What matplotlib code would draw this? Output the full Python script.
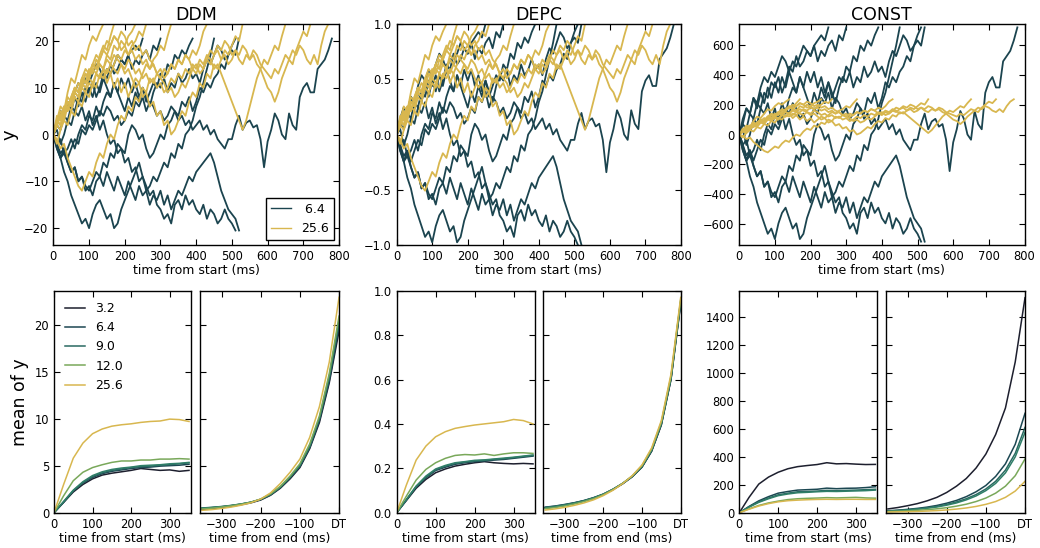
import numpy as np
import matplotlib
matplotlib.use("Agg")
import matplotlib.pyplot as plt

# ---------------- data: single-trial trajectories (DDM units), sampled every STEP_MS ----------------
STEP_MS = 10
DARK_BOUND = 20.5     # 6.4 bound in DDM units
GOLD_BOUND = 23.6     # 25.6 bound in DDM units
CONST_DARK_SCALE = 35.0
CONST_GOLD_SCALE = 10.0

dark_1 = [0, 2, 1, 4, 3, 6, 5, 8, 7, 10, 9, 11, 8, 10, 13, 12, 15, 13, 14, 16, 15, 17, 14, 16, 15, 17, 18, 16, 19, 18, 20.5]
dark_2 = [0, -2, -1, -4, -3, -1, -3, 0, 2, 1, 4, 3, 6, 4, 7, 9, 8, 11, 9, 12, 10, 12, 9, 11, 8, 10, 7, 9, 11, 10,
          13, 12, 15, 14, 17, 16, 18, 17, 19, 20.5]
dark_3 = [0, 3, 5, 4, 7, 5, 8, 6, 9, 7, 10, 8, 11, 9, 12, 10, 8, 11, 9, 7, 5, 8, 6, 9, 7, 10, 8, 6, 9, 11,
          10, 12, 9, 11, 10, 13, 11, 12, 14, 12, 13, 11, 14, 16, 15, 17, 19, 18, 16, 17, 18, 17, 20.5]
dark_4 = [0, -2, -4, -3, -5, -3, -1, -2, 1, 0, 2, 1, 3, 5, 4, 6, 5, 3, 4, 2, 3, 5, 4, 7, 6, 8, 5, 7, 6, 4,
          5, 3, 4, 6, 5, 3, 4, 2, 3, 1, 2, 3, 1, 2, 0, 1, -1, -2, -3, -1, -1, 2, 4, 1, 2.5, 3, 1.5, 2, -1, -7,
          -1.5, 1, 4.5, 3, 0, -1, 4.5, 2, 1, 8, 10, 11, 9, 9, 14, 15, 16, 18, 20.5]
dark_5 = [0, -3, -5, -4, -6, -8, -7, -10, -9, -12, -11, -13, -10, -9, -11, -8, -10, -12, -9, -11,
          -13, -10, -12, -14, -11, -13, -12, -15, -13, -14, -12, -15, -13, -16, -14, -12, -13, -11, -9, -10,
          -8, -7, -6, -5, -4, -6, -9, -12, -14, -16, -17, -18, -20.5]
dark_6 = [0, -3, -5, -8, -10, -13, -15, -17, -19, -18, -20, -17, -15, -14, -16, -18, -17, -20, -19, -16,
          -14, -12, -10, -8, -6, -9, -11, -13, -12, -15, -16, -18, -17, -19, -15, -14, -16, -13, -15, -14,
          -16, -17, -15, -18, -16, -17, -19, -18, -16, -18, -19, -20.5]
dark_7 = [0, 2, 5, 4, 7, 6, 9, 11, 10, 12, 11, 13, 15, 14, 12, 14, 13, 15, 17, 16, 15, 17, 18, 19, 18, 20.5]
dark_8 = [0, -2, -5, -3, -6, -8, -7, -10, -9, -11, -12, -10, -8, -9, -6, -7, -4, -5, -2, -3,
          -4, 0, 2, 1, -1, 0, -3, -5, -4, -2, 0, -1, 2, 3, 5, 4, 7, 6, 8, 5,
          7, 10, 9, 11, 10, 12, 13, 15, 14, 17, 19, 20.5]
dark_9 = [0, 1, -2, 0, 3, 2, 5, 4, 6, 3, 5, 2, 4, 1, 3, 0, -2, -1, -4, -3,
          -6, -5, -8, -7, -10, -9, -12, -11, -9, -10, -8, -6, -7, -4, -5, -2, -3, 0, 1, 3,
          6, 8, 11, 14, 17, 20.5]

gold_1 = [0, 3, 6, 5, 9, 12, 11, 14, 17, 16, 19, 21, 20, 22, 23.6]
gold_2 = [0, 2, 1, 4, 7, 6, 9, 8, 11, 13, 12, 15, 14, 17, 19, 18, 21, 23.6]
gold_3 = [0, 4, 3, 6, 5, 8, 10, 9, 12, 11, 14, 13, 16, 15, 14, 17, 16, 19, 18, 20, 19, 21, 22, 23.6]
gold_4 = [0, -2, 1, 3, 2, 5, 4, 7, 6, 9, 8, 11, 10, 13, 12, 14, 13, 15, 17, 16, 18, 17, 19, 20, 22, 21, 23.6]
gold_5 = [0, -1, -3, -2, -5, -7, -9, -11, -12, -10, -8, -9, -6, -4, -5, -2, 0, -1, 2, 4,
          3, 6, 5, 8, 7, 10, 9, 12, 11, 13, 12, 14, 13, 15, 14, 16, 15, 17, 16, 18, 17, 19, 22, 23.6]
gold_6 = [0, 2, 4, 3, 6, 5, 8, 7, 10, 9, 11, 10, 13, 12, 14, 11, 13, 10, 12, 9,
          11, 8, 10, 12, 11, 13, 15, 14, 16, 17, 19, 18, 21, 23.6]
gold_7 = [0, 3, 2, 5, 7, 6, 9, 11, 10, 13, 12, 14, 13, 15, 14, 16, 15, 17, 16, 15,
          13, 14, 12, 10, 11, 8, 9, 6, 7, 4, 5, 2, 3, 0, 1, 3, 5, 4, 7, 9,
          8, 11, 10, 13, 12, 15, 14, 16, 18, 17, 19, 21, 20, 23.6]
gold_8 = [0, 2, 5, 4, 7, 6, 9, 8, 11, 10, 12, 11, 13, 12, 14, 13, 15, 14, 13, 15,
          14, 16, 15, 13, 14, 12, 13, 11, 12, 10, 11, 9, 10, 12, 11, 13, 12, 14, 13, 15,
          14, 16, 15, 17, 16, 14, 15, 13, 11, 9, 7, 5, 3, 1, 3, 6, 9, 12, 14, 16,
          15, 17, 19, 18, 21, 23.6]
gold_9 = [0, 3, 2, 5, 8, 7, 10, 9, 12, 14, 13, 15, 17, 16, 18, 20, 19, 21, 20, 18,
          19, 17, 18, 16, 17, 15, 16, 14, 15, 13, 14, 12, 13, 15, 14, 16, 15, 17, 16, 14,
          15, 13, 14, 16, 15, 17, 18, 16, 17, 15, 16, 18, 17, 19, 18, 16, 17, 15, 14, 12,
          10, 9, 7, 9, 12, 14, 16, 15, 18, 20, 22, 21, 23.6]
gold_10 = [0, 2, 4, 6, 5, 8, 10, 9, 12, 11, 13, 15, 14, 16, 18, 17, 19, 21, 20, 22,
           21, 19, 20, 18, 19, 17, 18, 16, 15, 13, 12, 11, 9, 10, 8, 9, 11, 10, 12, 14,
           13, 15, 14, 16, 18, 17, 19, 18, 20, 19, 17, 18, 16, 15, 17, 16, 18, 17, 15, 14,
           13, 12, 14, 13, 15, 17, 16, 18, 17, 19, 18, 16, 15, 17, 15, 19, 22, 23.6]

dark_traces = [dark_1, dark_2, dark_3, dark_4, dark_5, dark_6, dark_7, dark_8, dark_9]
gold_traces = [gold_1, gold_2, gold_3, gold_4, gold_5, gold_6, gold_7, gold_8, gold_9, gold_10]

# ---------------- data: mean curves ----------------
coh_labels = ["3.2", "6.4", "9.0", "_extra", "12.0", "25.6"]
coh_colors = ["#1d1f2e", "#1c4752", "#2a6a62", "#2f7e68", "#79a85a", "#d8b74f"]

t_start = [0, 25, 50, 75, 100, 125, 150, 175, 200, 225, 250, 275, 300, 325, 350]
t_end = [-350, -325, -300, -275, -250, -225, -200, -175, -150, -125, -100, -75, -50, -25, 0]

ddm_start = [
    [0, 1.1, 2.2, 3.0, 3.6, 4.0, 4.2, 4.35, 4.5, 4.7, 4.6, 4.5, 4.55, 4.4, 4.5],
    [0, 1.1, 2.3, 3.15, 3.75, 4.15, 4.4, 4.55, 4.7, 4.8, 4.85, 4.95, 5.0, 5.05, 5.15],
    [0, 1.15, 2.35, 3.2, 3.85, 4.25, 4.5, 4.65, 4.8, 4.9, 4.95, 5.05, 5.1, 5.2, 5.3],
    [0, 1.2, 2.4, 3.3, 3.95, 4.35, 4.6, 4.75, 4.85, 5.0, 5.05, 5.1, 5.2, 5.25, 5.35],
    [0, 1.8, 3.4, 4.3, 4.8, 5.1, 5.35, 5.5, 5.5, 5.6, 5.6, 5.7, 5.7, 5.75, 5.7],
    [0, 3.0, 5.8, 7.4, 8.4, 8.9, 9.2, 9.35, 9.45, 9.6, 9.7, 9.75, 9.95, 9.9, 9.7],
]
ddm_end = [
    [0.35, 0.45, 0.55, 0.68, 0.85, 1.05, 1.35, 1.85, 2.6, 3.6, 4.8, 6.8, 9.6, 13.8, 19.3],
    [0.45, 0.53, 0.62, 0.75, 0.9, 1.1, 1.4, 1.9, 2.65, 3.7, 4.9, 6.9, 9.8, 14.0, 19.8],
    [0.5, 0.57, 0.66, 0.78, 0.93, 1.12, 1.42, 1.92, 2.7, 3.75, 5.0, 7.0, 10.0, 14.3, 20.2],
    [0.48, 0.55, 0.64, 0.76, 0.92, 1.12, 1.43, 1.95, 2.75, 3.8, 5.05, 7.1, 10.1, 14.5, 20.5],
    [0.4, 0.48, 0.6, 0.73, 0.9, 1.12, 1.45, 2.0, 2.8, 3.9, 5.2, 7.3, 10.3, 14.8, 20.9],
    [0.25, 0.33, 0.45, 0.6, 0.8, 1.05, 1.45, 2.1, 3.1, 4.3, 5.7, 8.0, 11.3, 16.0, 22.9],
]
depc_start = [
    [0, 0.055, 0.11, 0.15, 0.18, 0.197, 0.21, 0.218, 0.225, 0.23, 0.225, 0.222, 0.22, 0.222, 0.22],
    [0, 0.057, 0.115, 0.157, 0.19, 0.205, 0.218, 0.225, 0.23, 0.233, 0.237, 0.24, 0.245, 0.25, 0.255],
    [0, 0.058, 0.118, 0.16, 0.193, 0.21, 0.222, 0.228, 0.233, 0.236, 0.24, 0.243, 0.248, 0.253, 0.258],
    [0, 0.06, 0.12, 0.165, 0.197, 0.213, 0.225, 0.23, 0.236, 0.238, 0.242, 0.246, 0.25, 0.255, 0.26],
    [0, 0.075, 0.147, 0.195, 0.225, 0.245, 0.258, 0.262, 0.26, 0.265, 0.258, 0.265, 0.27, 0.27, 0.267],
    [0, 0.125, 0.237, 0.3, 0.342, 0.365, 0.38, 0.388, 0.395, 0.4, 0.405, 0.41, 0.42, 0.415, 0.40],
]
depc_end = [
    [0.022, 0.027, 0.034, 0.043, 0.053, 0.066, 0.082, 0.104, 0.13, 0.162, 0.205, 0.277, 0.395, 0.6, 0.94],
    [0.025, 0.03, 0.037, 0.045, 0.055, 0.068, 0.084, 0.106, 0.132, 0.163, 0.206, 0.278, 0.397, 0.602, 0.945],
    [0.024, 0.029, 0.036, 0.044, 0.054, 0.067, 0.083, 0.105, 0.131, 0.163, 0.207, 0.28, 0.4, 0.605, 0.95],
    [0.022, 0.027, 0.034, 0.043, 0.053, 0.066, 0.083, 0.105, 0.132, 0.165, 0.209, 0.283, 0.403, 0.61, 0.955],
    [0.018, 0.023, 0.03, 0.039, 0.05, 0.063, 0.081, 0.104, 0.132, 0.166, 0.212, 0.287, 0.408, 0.615, 0.96],
    [0.012, 0.017, 0.024, 0.033, 0.044, 0.058, 0.077, 0.101, 0.131, 0.167, 0.215, 0.292, 0.415, 0.625, 0.97],
]
const_start = [
    [0, 110, 205, 255, 290, 315, 330, 338, 345, 358, 350, 352, 348, 345, 346],
    [0, 45, 85, 115, 140, 152, 162, 165, 168, 176, 172, 175, 176, 180, 186],
    [0, 42, 78, 105, 128, 140, 150, 152, 155, 160, 158, 160, 162, 165, 168],
    [0, 40, 74, 100, 122, 134, 143, 146, 150, 153, 152, 154, 156, 158, 162],
    [0, 28, 52, 70, 83, 94, 100, 103, 105, 108, 106, 108, 110, 106, 104],
    [0, 25, 48, 65, 78, 86, 90, 93, 95, 96, 95, 96, 96, 95, 95],
]
const_end = [
    [27, 37, 50, 65, 85, 110, 145, 190, 245, 320, 420, 560, 750, 1080, 1540],
    [14, 18, 24, 31, 40, 52, 68, 88, 115, 150, 195, 260, 350, 490, 712],
    [12, 16, 21, 27, 35, 45, 59, 77, 100, 130, 170, 225, 305, 425, 611],
    [11, 14, 19, 25, 32, 41, 54, 70, 92, 120, 158, 210, 285, 400, 576],
    [8, 10, 13, 17, 22, 28, 36, 47, 61, 80, 105, 140, 190, 265, 385],
    [5, 6, 7, 9, 12, 15, 20, 26, 34, 45, 60, 80, 110, 155, 225],
]

# ---------------- style ----------------
plt.rcParams.update({
    "font.family": ["DejaVu Sans"],
    "xtick.direction": "in", "ytick.direction": "in",
    "xtick.top": True, "ytick.right": True,
    "xtick.major.size": 4, "ytick.major.size": 4,
    "xtick.labelsize": 8.3, "ytick.labelsize": 8.3,
    "axes.linewidth": 1.0,
})
DARK = "#1b444f"
GOLD = "#d8b74f"

fig = plt.figure(figsize=(10.4, 5.48), dpi=100)

TOP_B, TOP_H = 0.5529, 0.4033
BOT_B, BOT_H = 0.0644, 0.4051
top_boxes = [(0.0513, 0.2747), (0.3814, 0.2734), (0.7108, 0.2743)]
bot_boxes = [((0.0519, 0.1317), (0.1923, 0.1337)),
             ((0.3814, 0.1330), (0.5224, 0.1321)),
             ((0.7109, 0.1327), (0.8519, 0.1337))]

titles = ["DDM", "DEPC", "CONST"]
dark_scales = [1.0, 1.0 / DARK_BOUND, CONST_DARK_SCALE]
gold_scales = [1.0, 1.0 / GOLD_BOUND, CONST_GOLD_SCALE]
top_ylims = [(-23.6, 23.6), (-1.0, 1.0), (-740, 740)]
top_yticks = [[-20, -10, 0, 10, 20], [-1.0, -0.5, 0.0, 0.5, 1.0], [-600, -400, -200, 0, 200, 400, 600]]

for i in range(3):
    ax = fig.add_axes([top_boxes[i][0], TOP_B, top_boxes[i][1], TOP_H])
    hd = hg = None
    for tr in dark_traces:
        tt = np.arange(len(tr)) * STEP_MS
        hd, = ax.plot(tt, np.array(tr) * dark_scales[i], color=DARK, lw=1.3)
    for tr in gold_traces:
        tt = np.arange(len(tr)) * STEP_MS
        hg, = ax.plot(tt, np.array(tr) * gold_scales[i], color=GOLD, lw=1.3)
    ax.set_xlim(0, 800)
    ax.set_ylim(*top_ylims[i])
    ax.set_xticks(range(0, 801, 100))
    ax.set_yticks(top_yticks[i])
    ax.set_title(titles[i], fontsize=12.5, pad=3)
    ax.set_xlabel("time from start (ms)", fontsize=9, labelpad=1)
    if i == 0:
        ax.set_ylabel("y", fontsize=13)
        leg = ax.legend([hd, hg], [" 6.4", "25.6"], loc="lower right", fontsize=9,
                        fancybox=False, framealpha=1, edgecolor="black",
                        handlelength=1.6, borderaxespad=0.4)
        leg.get_frame().set_linewidth(1.0)
        for ln in leg.get_lines():
            ln.set_linewidth(1.0)

bot_ylims = [(0, 23.6), (0, 1.0), (0, 1590)]
bot_yticks = [[0, 5, 10, 15, 20], [0.0, 0.2, 0.4, 0.6, 0.8, 1.0], [0, 200, 400, 600, 800, 1000, 1200, 1400]]
start_sets = [ddm_start, depc_start, const_start]
end_sets = [ddm_end, depc_end, const_end]

for i in range(3):
    (l0, w0), (l1, w1) = bot_boxes[i]
    axl = fig.add_axes([l0, BOT_B, w0, BOT_H])
    axr = fig.add_axes([l1, BOT_B, w1, BOT_H], sharey=axl)
    for k in range(len(coh_labels)):
        axl.plot(t_start, start_sets[i][k], color=coh_colors[k], lw=1.1, label=coh_labels[k])
        axr.plot(t_end, end_sets[i][k], color=coh_colors[k], lw=1.1)
    axl.set_xlim(0, 355)
    axr.set_xlim(-355, 0)
    axl.set_ylim(*bot_ylims[i])
    axl.set_yticks(bot_yticks[i])
    axl.set_xticks([0, 100, 200, 300])
    axr.set_xticks([-300, -200, -100, 0])
    axr.set_xticklabels(["\u2212300", "\u2212200", "\u2212100", "DT"])
    axr.tick_params(labelleft=False)
    axl.set_xlabel("time from start (ms)", fontsize=9, labelpad=1)
    axr.set_xlabel("time from end (ms)", fontsize=9, labelpad=1)
    if i == 0:
        axl.set_ylabel("mean of y", fontsize=12.5)
        axl.legend(loc="upper left", frameon=False, fontsize=9, handlelength=1.6,
                   labelspacing=0.5)

fig.savefig("out.png", dpi=100)
